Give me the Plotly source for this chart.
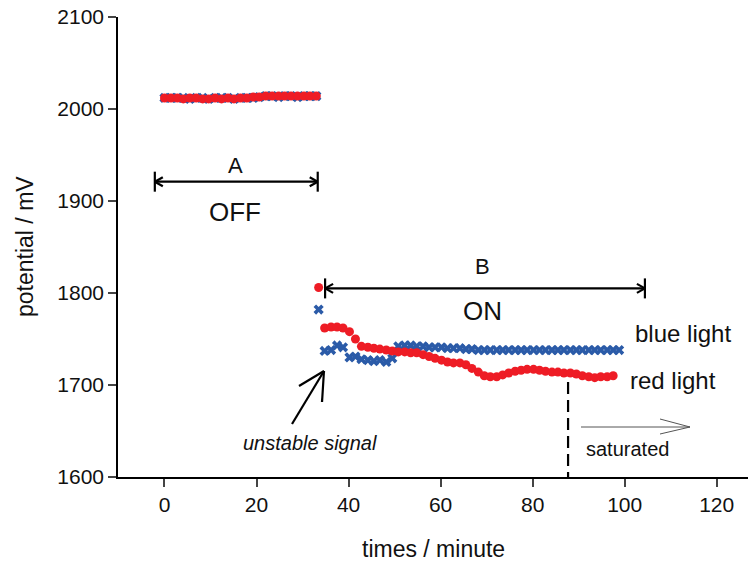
import plotly.graph_objects as go

# ---------------- data ----------------
t_off = [0, 1.4, 2.8, 4.1, 5.5, 6.9, 8.3, 9.6, 11, 12.4, 13.8, 15.1, 16.5, 17.9,
         19.3, 20.6, 22, 23.4, 24.8, 26.1, 27.5, 28.9, 30.3, 31.6, 33]
blue_off = [2012, 2012, 2012, 2012, 2011, 2012, 2012, 2011, 2012, 2012, 2012, 2011, 2012, 2012,
            2012, 2013, 2014, 2014, 2013, 2014, 2014, 2013, 2014, 2014, 2014]
red_off = [2012, 2012, 2012, 2011, 2012, 2012, 2011, 2011, 2012, 2011, 2012, 2011, 2012, 2012,
           2013, 2013, 2014, 2014, 2014, 2014, 2014, 2014, 2014, 2014, 2014]

t_on_blue = [33.5, 34.8, 36.2, 37.5, 38.8, 40.2, 41.5, 42.8, 44.2, 45.5, 46.8, 48.2, 49.5,
             50.8, 52.2, 53.5, 54.8, 56.2, 57.5, 58.8, 60.2, 61.5, 62.8, 64.2, 65.5, 66.8,
             68.2, 69.5, 70.8, 72.2, 73.5, 74.8, 76.2, 77.5, 78.8, 80.2, 81.5, 82.8, 84.2,
             85.5, 86.8, 88.2, 89.5, 90.8, 92.2, 93.5, 94.8, 96.2, 97.5, 98.8]
blue_on = [1782, 1737, 1738, 1743, 1741, 1730, 1731, 1728, 1727, 1726, 1727, 1725, 1729,
           1742, 1743, 1743, 1742, 1742, 1741, 1741, 1741, 1740, 1740, 1740, 1739, 1739,
           1738, 1738, 1738, 1738, 1738, 1738, 1738, 1738, 1738, 1738, 1738, 1738, 1738,
           1738, 1738, 1738, 1738, 1738, 1738, 1738, 1738, 1738, 1738, 1738]

t_on_red = [33.5, 34.8, 36.2, 37.5, 38.8, 40.2, 41.5, 42.8, 44.2, 45.5, 46.8, 48.2, 49.5,
            50.8, 52.2, 53.5, 54.8, 56.2, 57.5, 58.8, 60.2, 61.5, 62.8, 64.2, 65.5, 66.8,
            68.2, 69.5, 70.8, 72.2, 73.5, 74.8, 76.2, 77.5, 78.8, 80.2, 81.5, 82.8, 84.2,
            85.5, 86.8, 88.2, 89.5, 90.8, 92.2, 93.5, 94.8, 96.2, 97.5]
red_on = [1806, 1762, 1763, 1763, 1762, 1758, 1750, 1742, 1741, 1740, 1739, 1738, 1737,
          1736, 1736, 1735, 1735, 1733, 1731, 1729, 1727, 1725, 1724, 1724, 1722, 1718,
          1714, 1710, 1709, 1709, 1711, 1713, 1715, 1716, 1717, 1717, 1716, 1715, 1714,
          1714, 1713, 1713, 1712, 1710, 1709, 1708, 1709, 1709, 1710]

x_ticks = [0, 20, 40, 60, 80, 100, 120]
y_ticks = [1600, 1700, 1800, 1900, 2000, 2100]

# annotation anchors (data units)
span_A = (-2.1, 33.3, 1921)
span_B = (34.9, 104.4, 1805)
saturation_time = 87.7

# ---------------- layout geometry ----------------
W, H = 748, 562
ML, MR, MT, MB = 118, 0, 17, 85
XR = [-10.1, 126.8]
YR = [1600, 2100]
pw, ph = W - ML - MR, H - MT - MB
ux = (XR[1] - XR[0]) / pw   # data per px
uy = (YR[1] - YR[0]) / ph

def px(x):
    return XR[0] + (x - ML) * ux

def py(y):
    return YR[1] - (y - MT) * uy

BLUE = '#2B5BA8'
RED = '#EE1C25'
FONT = 'Liberation Sans, Arial, sans-serif'

fig = go.Figure()
blue_t = t_off + t_on_blue
blue_v = blue_off + blue_on
red_t = t_off + t_on_red
red_v = red_off + red_on
fig.add_trace(go.Scatter(x=blue_t, y=blue_v, mode='markers',
                         marker=dict(symbol='x', size=9, color=BLUE, line=dict(width=0)),
                         showlegend=False))
fig.add_trace(go.Scatter(x=red_t, y=red_v, mode='markers',
                         marker=dict(symbol='circle', size=9, color=RED, line=dict(width=0)),
                         showlegend=False))

shapes = []

def seg(x0, y0, x1, y1, color='black', width=2.2, dash='solid'):
    shapes.append(dict(type='line', xref='x', yref='y', x0=x0, y0=y0, x1=x1, y1=y1,
                       line=dict(color=color, width=width, dash=dash)))

def span_arrow(x0, x1, y):
    seg(x0, y, x1, y)
    bar = 10 * uy
    seg(x0, y - bar, x0, y + bar)
    seg(x1, y - bar, x1, y + bar)
    ax, ay = 8 * ux, 4.5 * uy
    seg(x0, y, x0 + ax, y + ay); seg(x0, y, x0 + ax, y - ay)
    seg(x1, y, x1 - ax, y + ay); seg(x1, y, x1 - ax, y - ay)

span_arrow(*span_A)
span_arrow(*span_B)

# unstable signal arrow (pixel-defined annotation graphics)
hx, hy = px(324), py(371)
seg(px(292), py(424), hx, hy, width=2.2)
seg(hx, hy, px(299), py(386), width=2.2)
seg(hx, hy, px(322), py(402), width=2.2)

# saturated marker
seg(saturation_time, py(382), saturation_time, YR[0], width=2.2, dash='12px,6px')
seg(px(581), py(427), px(690), py(427), color='#555555', width=1)
seg(px(690), py(427), px(660), py(419), color='#555555', width=1)
seg(px(690), py(427), px(660), py(434), color='#555555', width=1)

ann = []

def text(x, y, s, size, italic=False):
    ann.append(dict(x=px(x), y=py(y), xref='x', yref='y', text=s, showarrow=False,
                    font=dict(family=FONT, size=size, color='#111111',
                              style='italic' if italic else 'normal'),
                    xanchor='center', yanchor='middle'))

text(235, 165, 'A', 22)
text(235, 212, 'OFF', 26)
text(482, 266, 'B', 22)
text(482, 311, 'ON', 26)
text(683, 333, 'blue light', 24)
text(673, 380, 'red light', 24)
text(310, 443, 'unstable signal', 20, italic=True)
text(627, 449, 'saturated', 20)

ann.append(dict(x=0, y=0.5, xref='paper', yref='paper', xshift=-93, text='potential / mV',
                textangle=-90, showarrow=False, font=dict(family=FONT, size=23, color='#111111'),
                xanchor='center', yanchor='middle'))
ann.append(dict(x=0.5, y=0, xref='paper', yref='paper', yshift=-72, text='times / minute',
                showarrow=False, font=dict(family=FONT, size=23, color='#111111'),
                xanchor='center', yanchor='middle'))

fig.update_layout(
    width=W, height=H,
    margin=dict(l=ML, r=MR, t=MT, b=MB, pad=0),
    paper_bgcolor='white', plot_bgcolor='white',
    shapes=shapes, annotations=ann,
    font=dict(family=FONT, size=21, color='#111111'),
)
fig.update_xaxes(range=XR, tickvals=x_ticks, ticks='outside', ticklen=8, tickwidth=1.5,
                 showline=True, linecolor='black', linewidth=1.5, showgrid=False, zeroline=False,
                 tickfont=dict(size=21))
fig.update_yaxes(range=YR, tickvals=y_ticks, ticks='outside', ticklen=8, tickwidth=1.5,
                 showline=True, linecolor='black', linewidth=1.5, showgrid=False, zeroline=False,
                 tickfont=dict(size=21))

fig.write_html('out.html', config={'displayModeBar': False},
               post_script="document.body.style.margin='0';document.body.style.overflow='hidden';")
